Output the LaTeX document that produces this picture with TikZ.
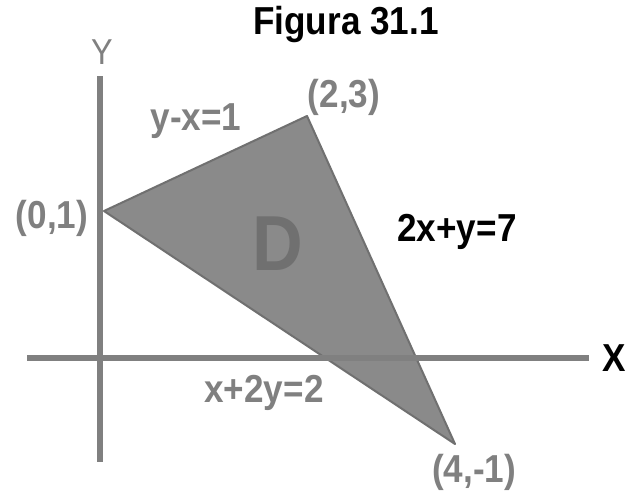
\documentclass[tikz,border=0pt]{standalone}
\usepackage{fontspec}
\setmainfont{Liberation Sans}[FakeStretch=0.9]
\usetikzlibrary{calc}

\begin{document}
\begin{tikzpicture}[x=1pt, y=-1pt, every node/.style={font=\bfseries\fontsize{39}{40}\selectfont, inner sep=0pt}, axisline/.style={line width=5.5pt, draw=black!50}, greylbl/.style={text=black!50}]
  \fill[white] (0,0) rectangle (628,490);
  \useasboundingbox (0,0) rectangle (628,490);
  \coordinate (pA) at (104,211);
  \coordinate (pB) at (307,116);
  \coordinate (pC) at (455,444);
  \filldraw[fill=black!46, draw=black!56, line width=2pt, line join=round] (pA) -- (pB) -- (pC) -- cycle;
  \node[text=black!56, font=\bfseries\fontsize{78}{78}\selectfont] (dom) at (278,244) {D};
  \coordinate (ytop) at (100,76);
  \coordinate (ybot) at (100,462);
  \coordinate (xleft) at (27,358);
  \coordinate (xright) at (589,358);
  \draw[axisline] (ytop) -- (ybot);
  \draw[axisline] (xleft) -- (xright);
  \node (title) at (346,25) {Figura 31.1};
  \node[greylbl, font=\fontsize{36}{38}\selectfont] (ylab) at (102,52) {Y};
  \node (xlab) at (614,358) {X};
  \node[greylbl] (labB) at (344,97) {(2,3)};
  \node[greylbl] (labA) at (52,218) {(0,1)};
  \node[greylbl] (labC) at (474,472) {(4,-1)};
  \node[greylbl] (lineAB) at (196,121) {y-x=1};
  \node (lineBC) at (457,232) {2x+y=7};
  \node[greylbl] (lineAC) at (264,393) {x+2y=2};
\end{tikzpicture}
\end{document}
